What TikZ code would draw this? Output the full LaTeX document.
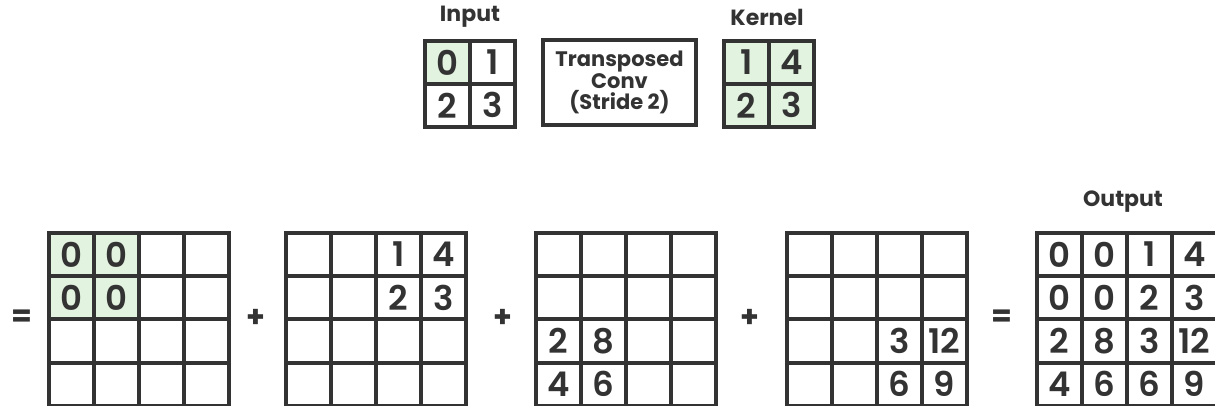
\documentclass[tikz,border=0pt]{standalone}
\usepackage{fontspec}
\setmainfont{Poppins}[UprightFont=* SemiBold, BoldFont=* Bold]
\definecolor{ink}{HTML}{333333}
\definecolor{lgreen}{HTML}{E2F3DF}
\begin{document}
\begin{tikzpicture}[x=0.5pt,y=-0.5pt,
  cell/.style={draw=ink, line width=1.9pt, minimum width=22.5pt, minimum height=21.6pt, inner sep=0pt, anchor=north west},
  tcell/.style={draw=ink, line width=1.9pt, minimum width=22.5pt, minimum height=21.5pt, inner sep=0pt, anchor=north west},
  num/.style={inner sep=0pt, text=ink, font=\fontsize{17}{17}\selectfont},
  lbl/.style={inner sep=0pt, text=ink, font=\bfseries\fontsize{11}{11}\selectfont},
  op/.style={inner sep=0pt, text=ink, font=\bfseries\fontsize{15}{15}\selectfont},
  opbox/.style={draw=ink, line width=1.9pt, minimum width=76.5pt, minimum height=42.5pt, inner sep=0pt, align=center, text=ink, font=\bfseries\fontsize{10.5}{8.4}\selectfont}]
\useasboundingbox (0,0) rectangle (1215,406);
% green fills
\fill[lgreen] (423,39) rectangle (468,82);
\fill[lgreen] (722,39) rectangle (812,125);
\fill[lgreen] (47,231) rectangle (137,317.5);
% top: input & kernel
\foreach \g/\gx in {in/423, k/722}{
  \foreach \r in {1,2}{\foreach \c in {1,2}{
    \node[tcell] (\g-\r-\c) at ({\gx+(\c-1)*45},{39+(\r-1)*43}) {};
  }}}
\node[lbl] (lin) at (470,17) {Input};
\node[lbl] (lk) at (767,17) {Kernel};
\foreach \r/\c/\v in {1/1/0,1/2/1,2/1/2,2/2/3}{\node[num] (tin-\r-\c) at (in-\r-\c.center) {\v};}
\foreach \r/\c/\v in {1/1/1,1/2/4,2/1/2,2/2/3}{\node[num] (tk-\r-\c) at (k-\r-\c.center) {\v};}
\node[opbox] (tc) at (619.5,82.5) {Transposed\\Conv\\(Stride 2)};
% bottom grids
\foreach \g/\gx in {a/47, b/284, c/534, d/785, o/1035}{
  \foreach \r in {1,...,4}{\foreach \c in {1,...,4}{
    \node[cell] (\g-\r-\c) at ({\gx+(\c-1)*45},{231+(\r-1)*43.25}) {};
  }}}
\foreach \r/\c/\v in {1/1/0,1/2/0,2/1/0,2/2/0}{\node[num] (ta-\r-\c) at (a-\r-\c.center) {\v};}
\foreach \r/\c/\v in {1/3/1,1/4/4,2/3/2,2/4/3}{\node[num] (tb-\r-\c) at (b-\r-\c.center) {\v};}
\foreach \r/\c/\v in {3/1/2,3/2/8,4/1/4,4/2/6}{\node[num] (tcc-\r-\c) at (c-\r-\c.center) {\v};}
\foreach \r/\c/\v in {3/3/3,3/4/12,4/3/6,4/4/9}{\node[num] (td-\r-\c) at (d-\r-\c.center) {\v};}
\foreach \r/\c/\v in {1/1/0,1/2/0,1/3/1,1/4/4,2/1/0,2/2/0,2/3/2,2/4/3,3/1/2,3/2/8,3/3/3,3/4/12,4/1/4,4/2/6,4/3/6,4/4/9}{\node[num] (to-\r-\c) at (o-\r-\c.center) {\v};}
\node[lbl] (lo) at (1123,202) {Output};
% operators
\node[op] (eq1) at (22,318) {=};
\node[op] (p1) at (256,318) {+};
\node[op] (p2) at (503,318) {+};
\node[op] (p3) at (750,318) {+};
\node[op] (eq2) at (1002,318) {=};
\end{tikzpicture}
\end{document}
